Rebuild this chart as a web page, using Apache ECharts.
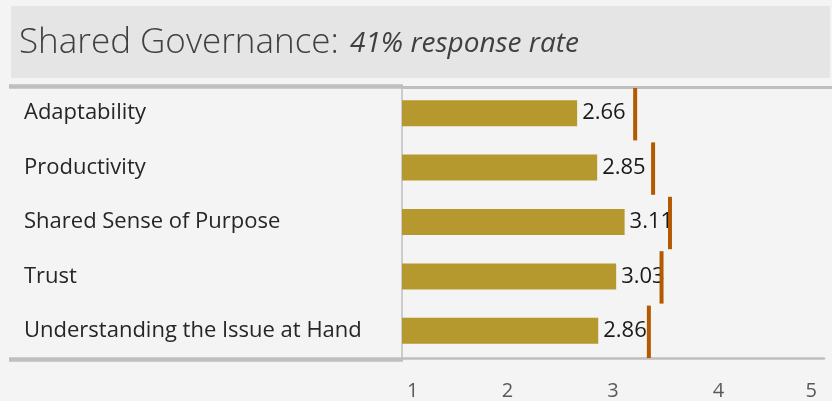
<!DOCTYPE html>
<html>
<head>
<meta charset="utf-8">
<script src="https://cdn.jsdelivr.net/npm/echarts@6/dist/echarts.min.js"></script>
<style>
html,body{margin:0;padding:0;background:#f4f4f4;}
#chart{width:832px;height:401px;}
</style>
</head>
<body>
<div id="chart"></div>
<script>
var categories = ['Adaptability', 'Productivity', 'Shared Sense of Purpose', 'Trust', 'Understanding the Issue at Hand'];
var scores = [2.66, 2.85, 3.11, 3.03, 2.86];
var benchmarks = [3.21, 3.38, 3.54, 3.46, 3.34];
var tickValues = [1, 2, 3, 4, 5];
var titleMain = 'Shared Governance:';
var titleSub = '41% response rate';

var FONT = '"Open Sans", "Noto Sans", sans-serif';
var chart = echarts.init(document.getElementById('chart'));

var markerData = benchmarks.map(function (v, i) { return [v, i]; });

chart.setOption({
  backgroundColor: '#f4f4f4',
  animation: false,
  graphic: [
    { type: 'rect', z: -10, shape: { x: 11, y: 6, width: 819, height: 72 }, style: { fill: '#e5e5e5' } },
    { type: 'text', z: 5, x: 19, y: 43, style: { text: titleMain, fontFamily: FONT, fontWeight: 300, fontSize: 35, fill: '#404040', verticalAlign: 'middle', align: 'left' } },
    { type: 'text', z: 5, x: 350, y: 44, style: { text: titleSub, fontFamily: FONT, fontStyle: 'italic', fontSize: 28, fill: '#404040', verticalAlign: 'middle', align: 'left' } },
    { type: 'line', z: 10, shape: { x1: 9, y1: 86.5, x2: 403, y2: 86.5 }, style: { stroke: '#bfbfbf', lineWidth: 4.5 } },
    { type: 'line', z: 10, shape: { x1: 402, y1: 87.5, x2: 832, y2: 87.5 }, style: { stroke: '#bfbfbf', lineWidth: 3 } },
    { type: 'line', z: 10, shape: { x1: 9, y1: 359.5, x2: 403, y2: 359.5 }, style: { stroke: '#bfbfbf', lineWidth: 4.5 } }
  ],
  grid: { left: 402, right: 8, top: 86, bottom: 43, containLabel: false },
  xAxis: {
    type: 'value',
    min: 1,
    max: 5,
    interval: 1,
    splitLine: { show: false },
    axisTick: { show: false },
    axisLine: { show: true, lineStyle: { color: '#bfbfbf', width: 2.5 } },
    axisLabel: {
      margin: 23,
      fontFamily: FONT,
      fontSize: 20,
      color: '#595959',
      alignMinLabel: 'left',
      alignMaxLabel: 'right',
      formatter: function (v) {
        if (v === tickValues[0]) return '{l|' + v + '}';
        if (v === tickValues[tickValues.length - 1]) return '{r|' + v + '}';
        return String(v);
      },
      rich: {
        l: { fontFamily: FONT, fontSize: 20, color: '#595959', padding: [0, 0, 0, 5] },
        r: { fontFamily: FONT, fontSize: 20, color: '#595959', padding: [0, 7, 0, 0] }
      }
    }
  },
  yAxis: {
    type: 'category',
    data: categories,
    inverse: true,
    axisTick: { show: false },
    axisLine: { show: true, lineStyle: { color: '#bfbfbf', width: 1.5 } },
    axisLabel: {
      align: 'left',
      margin: 378,
      padding: [5, 0, 0, 0],
      fontFamily: FONT,
      fontSize: 22,
      color: '#262626'
    }
  },
  series: [
    {
      type: 'bar',
      data: scores,
      barWidth: 26,
      itemStyle: { color: '#b5992f' },
      label: {
        show: true,
        position: 'right',
        distance: 5,
        fontFamily: FONT,
        fontSize: 22,
        color: '#1a1a1a',
        formatter: function (p) { return p.value.toFixed(2); }
      },
      z: 2
    },
    {
      type: 'custom',
      z: 20,
      data: markerData,
      encode: { x: 0, y: 1 },
      renderItem: function (params, api) {
        var pt = api.coord([api.value(0), api.value(1)]);
        var h = api.size([0, 1])[1];
        return {
          type: 'rect',
          shape: { x: pt[0] - 2, y: pt[1] - h / 2 + 2, width: 4, height: h - 2 },
          style: { fill: '#b35a00' }
        };
      }
    }
  ]
});
</script>
</body>
</html>
